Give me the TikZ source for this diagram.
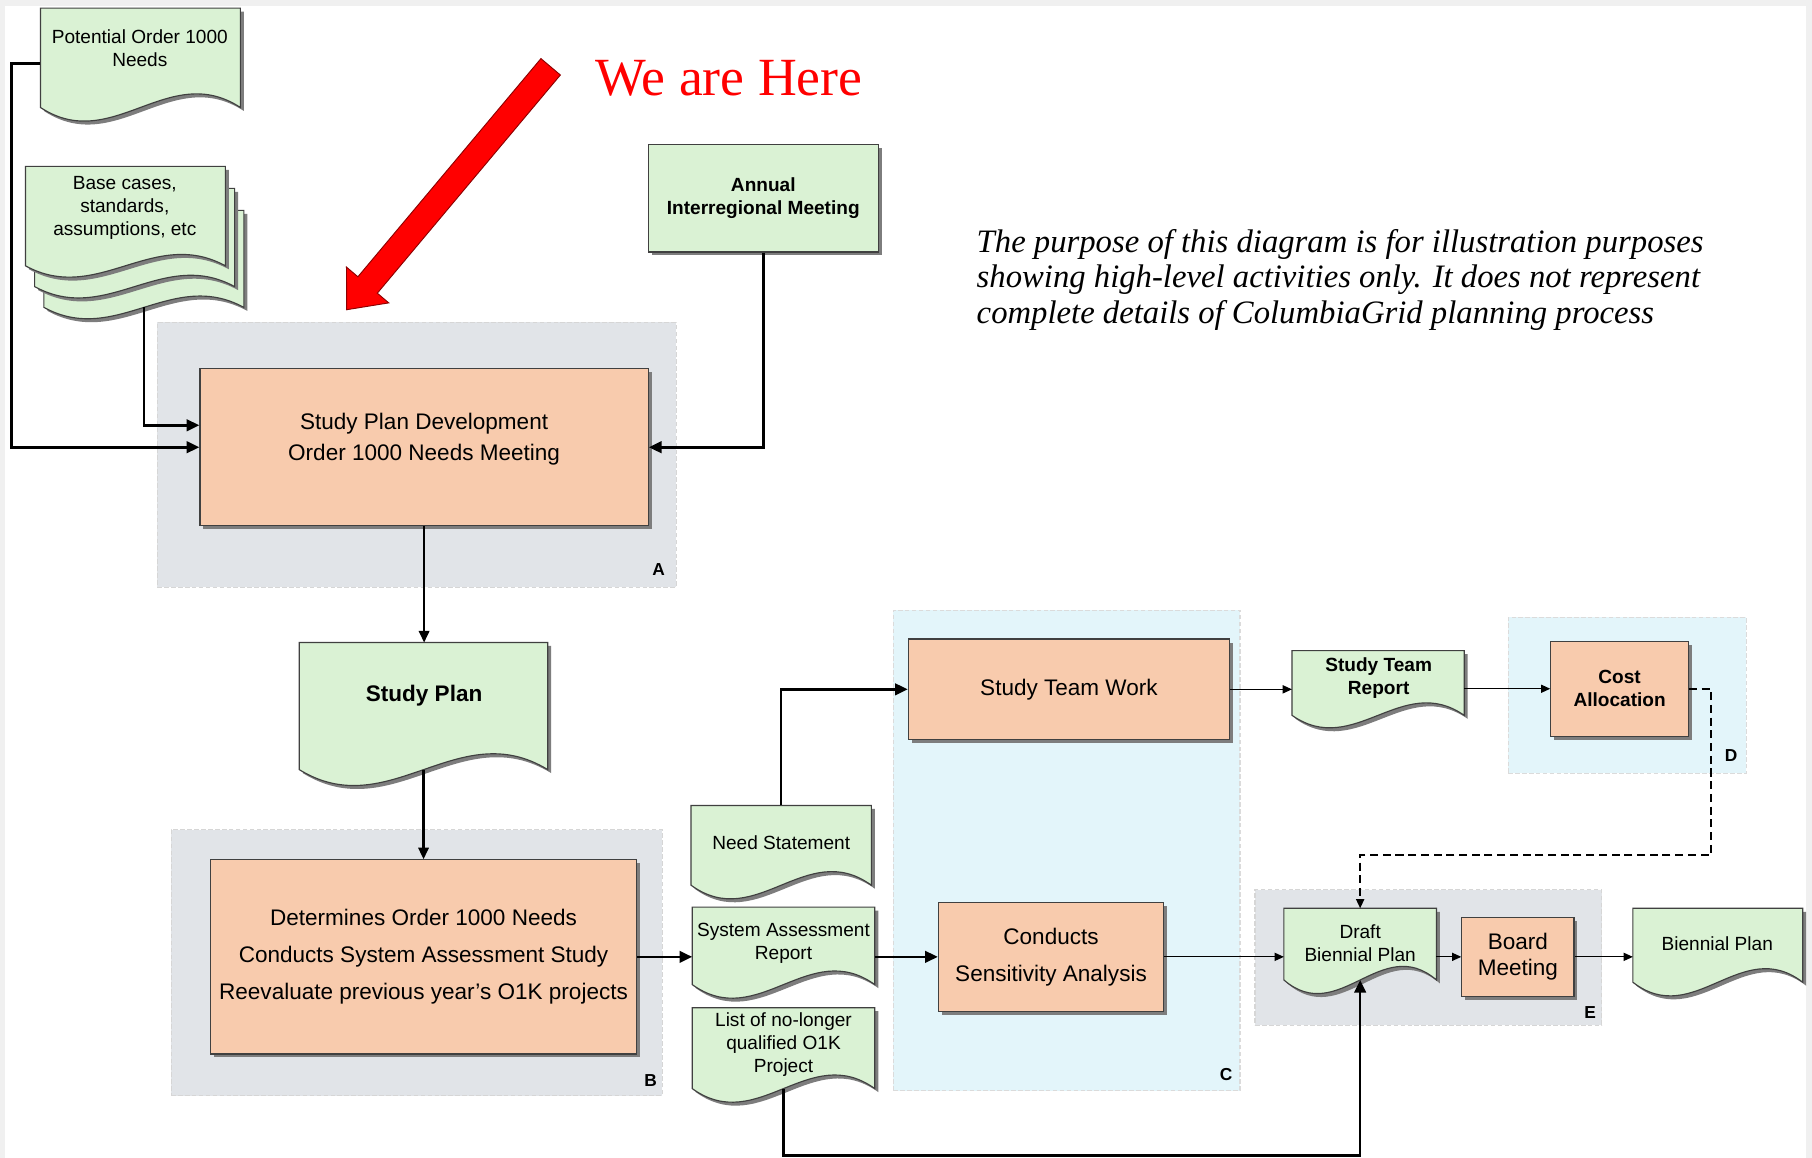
\documentclass[tikz,border=0pt]{standalone}
\usepackage{fontspec}
\setmainfont{Liberation Sans}
\newfontfamily\timesfont{Liberation Serif}
\usetikzlibrary{arrows.meta,shadows}
\definecolor{peach}{RGB}{248,203,173}
\definecolor{mint}{RGB}{218,242,212}
\definecolor{ggrey}{RGB}{225,228,232}
\definecolor{gblue}{RGB}{227,245,250}
\definecolor{edge}{RGB}{64,64,64}
\definecolor{shade}{RGB}{125,125,125}
\newcommand\docshape[6]{%
 \draw[doc] (#2,#3) -- (#4,#3) -- (#4,#5) .. controls ({#4-0.36*(#4-#2)},{#5-3.4*#6}) and ({#2+0.36*(#4-#2)},{#5+3.4*#6}) .. (#2,#5) -- cycle;
 \pgfmathsetmacro\dw{#4-#2}\pgfmathsetmacro\dh{#5-#3}%
 \node[inner sep=0pt, outer sep=0pt, minimum width=\dw pt, minimum height=\dh pt] (#1) at ({(#2+#4)/2},{(#3+#5)/2}) {};
}
\begin{document}
\begin{tikzpicture}[x=1pt,y=-1pt,
 shad/.style={drop shadow={shadow xshift=3pt,shadow yshift=-3pt,fill=shade,opacity=1}},
 grpg/.style={rectangle,fill=ggrey,draw=black!16,dash pattern=on 4pt off 2pt,line width=0.9pt,inner sep=0pt},
 grpb/.style={rectangle,fill=gblue,draw=black!14,dash pattern=on 4pt off 2pt,line width=0.9pt,inner sep=0pt},
 proc/.style={rectangle,draw=edge,line width=1pt,fill=peach,shad,align=center,inner sep=0pt},
 io/.style={rectangle,draw=edge,line width=1pt,fill=mint,shad,align=center,inner sep=0pt},
 doc/.style={draw=edge,line width=1pt,fill=mint,shad},
 txt/.style={align=center,inner sep=0pt},
 big/.style={font=\fontsize{19.5}{27}\selectfont},
 sml/.style={font=\fontsize{16.5}{20}\selectfont},
 smlb/.style={font=\fontsize{16.5}{20}\selectfont\bfseries},
 lbl/.style={font=\fontsize{15}{18}\selectfont\bfseries,inner sep=0pt},
 thk/.style={line width=2.2pt,-{Triangle[length=11pt,width=10pt]}},
 med/.style={line width=1.8pt,-{Triangle[length=10pt,width=9pt]}},
 thn/.style={line width=1.1pt,-{Triangle[length=8pt,width=7pt]}},
 dsh/.style={line width=1.5pt,dash pattern=on 7pt off 4pt,-{Triangle[length=8pt,width=7pt]}}
]
\useasboundingbox (0,0) rectangle (1568,1002);
\fill[black!6] (0,0) rectangle (1568,1002);
\fill[white] (4,5) rectangle (1563,1002);

% groups
\node[grpg,minimum width=449pt,minimum height=229pt] (grpA) at (360.5,393.5) {};
\node[grpg,minimum width=425pt,minimum height=230pt] (grpB) at (360.5,833) {};
\node[grpb,minimum width=300pt,minimum height=416pt] (grpC) at (923,736) {};
\node[grpb,minimum width=206pt,minimum height=135pt] (grpD) at (1408,601.5) {};
\node[grpg,minimum width=300pt,minimum height=117pt] (grpE) at (1236,828.5) {};
\node[lbl] (labA) at (570,493) {A};
\node[lbl] (labB) at (563,935) {B};
\node[lbl] (labC) at (1061,930) {C};
\node[lbl] (labD) at (1498,654) {D};
\node[lbl] (labE) at (1376,876) {E};

% red arrow and headline
\filldraw[fill=red,draw=red!55!black,line width=0.8pt]
 (484.9,64.9) -- (326.5,253.7) -- (336.4,262.1) -- (300,268) -- (299.8,231.1) -- (309.7,239.5) -- (468.1,50.7) -- cycle;
\node[anchor=base west,inner sep=0pt,text=red,font=\timesfont\fontsize{46.5}{50}\selectfont] (here) at (515,83) {We are Here};
\node[anchor=north west,align=left,inner sep=0pt,font=\timesfont\itshape\fontsize{28.3}{31}\selectfont] (note) at (845,198)
 {The purpose of this diagram is for illustration purposes\\showing high-level activities only. It does not represent\\complete details of ColumbiaGrid planning process};

% documents
\docshape{pot}{35}{7}{208}{93}{12}
\docshape{base3}{38}{182}{211}{266}{10}
\docshape{base2}{30}{163}{203}{248}{10}
\docshape{base1}{22}{144}{195}{230}{10}
\docshape{sp}{259}{556}{474}{666}{14}
\docshape{need}{598}{697}{754}{766}{12}
\docshape{sar}{599}{785}{757}{852}{12}
\docshape{list}{599}{872}{757}{942}{12}
\docshape{str}{1118}{563}{1267}{619}{11}
\docshape{draft}{1111}{786}{1243}{848}{12}
\docshape{bien}{1413}{786}{1560}{850}{12}

\node[txt,sml] (pot-t) at (121,42) {Potential Order 1000\\Needs};
\node[txt,sml] (base-t) at (108,180) {Base cases,\\standards,\\assumptions, etc};
\node[txt,font=\fontsize{19.5}{24}\selectfont\bfseries] (sp-t) at (367,602) {Study Plan};
\node[txt,sml] (need-t) at (676,729) {Need Statement};
\node[txt,sml] (sar-t) at (678,816) {System Assessment\\Report};
\node[txt,sml] (list-t) at (678,904) {List of no-longer\\qualified O1K\\Project};
\node[txt,smlb] (str-t) at (1193,587) {Study Team\\Report};
\node[txt,sml] (draft-t) at (1177,816) {Draft\\Biennial Plan};
\node[txt,sml] (bien-t) at (1486,817) {Biennial Plan};

% boxes
\node[proc,minimum width=388pt,minimum height=136pt] (spd) at (367,387) {};
\node[txt,big] (spd-t) at (367,380) {Study Plan Development\\Order 1000 Needs Meeting};
\node[io,smlb,minimum width=199pt,minimum height=93pt] (annual) at (660.5,171.5) {Annual\\Interregional Meeting};
\node[proc,font=\fontsize{19.5}{32}\selectfont,minimum width=369pt,minimum height=168pt] (det) at (366.5,828)
 {Determines Order 1000 Needs\\Conducts System Assessment Study\\Reevaluate previous year’s O1K projects};
\node[proc,big,minimum width=278pt,minimum height=87pt] (stw) at (925,596.5) {Study Team Work};
\node[proc,font=\fontsize{19.5}{32}\selectfont,minimum width=195pt,minimum height=94pt] (cond) at (909.5,828) {Conducts\\Sensitivity Analysis};
\node[proc,smlb,minimum width=119pt,minimum height=82pt] (cost) at (1401.5,596) {Cost\\Allocation};
\node[proc,font=\fontsize{19.5}{23}\selectfont,minimum width=97pt,minimum height=68pt] (board) at (1313.5,828) {Board\\Meeting};

% connectors
\draw[thk] ([yshift=-5pt]pot.west) -- ++(-25,0) |- (spd.west);
\draw[thk] (base3.south) |- ([yshift=19pt]spd.west);
\draw[thk] (annual.south) |- (spd.east);
\draw[med] (spd.south) -- (spd.south |- sp.north);
\draw[med] (sp.south) -- (sp.south |- det.north);
\draw[thk] (det.east) -- (det.east -| sar.west);
\draw[thk] (need.north) |- (stw.west);
\draw[thk] (sar.east |- cond.west) -- (cond.west);
\draw[thk] (list.south) -- ++(0,58) -| (draft.south);
\draw[thn] (stw.east) -- (stw.east -| str.west);
\draw[thn] (str.east |- cost.west) -- (cost.west);
\draw[dsh] (cost.east) -- ++(19,0) -- ++(0,144) -| (draft.north);
\draw[thn] (cond.east) -- (cond.east -| draft.west);
\draw[thn] (draft.east |- board.west) -- (board.west);
\draw[thn] (board.east) -- (board.east -| bien.west);
\end{tikzpicture}
\end{document}
